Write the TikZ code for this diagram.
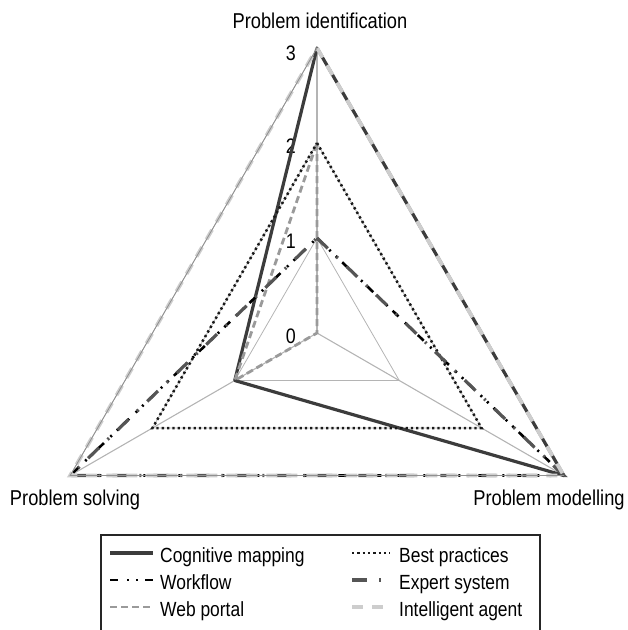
\documentclass[tikz,border=0pt]{standalone}
\usepackage{fontspec}
\setmainfont{Liberation Sans}[FakeStretch=0.85]
\definecolor{cogcol}{HTML}{3C3C3C}
\definecolor{webcol}{HTML}{9A9A9A}
\definecolor{expcol}{HTML}{555555}
\definecolor{gridcol}{HTML}{B4B4B4}
\definecolor{intcol}{HTML}{CDCDCD}
\tikzset{
  gridline/.style={draw=gridcol, line width=0.8pt},
  spokeline/.style={draw=gridcol, line width=1.1pt},
  cogline/.style={draw=cogcol, line width=3.2pt, line join=round},
  wfline/.style={draw=black, line width=2.6pt, dash pattern=on 8pt off 9pt on 2pt off 7pt on 2pt off 7pt},
  webline/.style={draw=webcol, line width=2.8pt, dash pattern=on 7pt off 4pt},
  bpline/.style={draw=black!90, line width=2.5pt, dash pattern=on 2.3pt off 3pt},
  expline/.style={draw=expcol, line width=3.2pt, dash pattern=on 15pt off 12pt on 2pt off 12pt},
  intline/.style={draw=intcol, line width=3.8pt, dash pattern=on 11pt off 9pt},
  axlabel/.style={font=\fontsize{21.5}{24}\selectfont, anchor=base, inner sep=0pt},
  ticklabel/.style={font=\fontsize{21}{24}\selectfont, anchor=east, inner sep=0pt},
  legtext/.style={font=\fontsize{20.5}{24}\selectfont, anchor=base west, inner sep=0pt},
}
\begin{document}
\begin{tikzpicture}[x=1pt,y=-1pt]
\useasboundingbox (0,0) rectangle (628,630);
% axis value coordinates
\foreach \k in {0,1,2,3}{
  \coordinate (T\k) at (317,{333-95*\k});
  \coordinate (R\k) at ({317+82.27*\k},{333+47.5*\k});
  \coordinate (L\k) at ({317-82.27*\k},{333+47.5*\k});
}
% grid
\foreach \k in {1,2,3}{
  \draw[gridline] (T\k) -- (R\k) -- (L\k) -- cycle;
}
\draw[spokeline] (T0) -- (T3);
\draw[spokeline] (R0) -- (R3);
\draw[spokeline] (L0) -- (L3);
% tick labels
\node[ticklabel] (n0) at (296,336) {0};
\node[ticklabel] (n1) at (296,241) {1};
\node[ticklabel] (n2) at (296,146) {2};
\node[ticklabel] (n3) at (296,53) {3};
% axis labels
\node[axlabel] (pid) at (320,28) {Problem identification};
\node[axlabel] (pso) at (75,505) {Problem solving};
\node[axlabel] (pmo) at (549,505) {Problem modelling};
% series
\draw[cogline] (T3) -- (R3) -- (L1) -- cycle;
\draw[wfline] (T1) -- (R3) -- (L3) -- cycle;
\draw[webline] (T2) -- (R0) -- (L1) -- cycle;
\draw[bpline] (T2) -- (R2) -- (L2) -- cycle;
\draw[expline] (T1) -- (R3) -- (L3) -- cycle;
\draw[intline] (T3) -- (R3) -- (L3) -- cycle;
\draw[gridline, draw=gridcol!80!black] (T3) -- (L3) -- (R3);
% legend
\coordinate (lgA) at (101,631);
\coordinate (lgB) at (101,535);
\coordinate (lgC) at (540,535);
\coordinate (lgD) at (540,631);
\draw[line width=1.3pt, draw=black!85] (lgA) -- (lgB) -- (lgC) -- (lgD);
\coordinate (s1a) at (110,553); \coordinate (s1b) at (153,553);
\coordinate (s2a) at (110,580); \coordinate (s2b) at (153,580);
\coordinate (s3a) at (110,607); \coordinate (s3b) at (153,607);
\coordinate (s4a) at (352,553); \coordinate (s4b) at (390,553);
\coordinate (s5a) at (352,580); \coordinate (s5b) at (390,580);
\coordinate (s6a) at (352,607); \coordinate (s6b) at (390,607);
\draw[cogline] (s1a) -- (s1b);
\draw[wfline] (s2a) -- (s2b);
\draw[webline] (s3a) -- (s3b);
\draw[bpline] (s4a) -- (s4b);
\draw[expline] (s5a) -- (s5b);
\draw[intline] (s6a) -- (s6b);
\node[legtext] (t1) at (160,562) {Cognitive mapping};
\node[legtext] (t2) at (160,589) {Workflow};
\node[legtext] (t3) at (160,616) {Web portal};
\node[legtext] (t4) at (399,562) {Best practices};
\node[legtext] (t5) at (399,589) {Expert system};
\node[legtext] (t6) at (399,616) {Intelligent agent};
\end{tikzpicture}
\end{document}
